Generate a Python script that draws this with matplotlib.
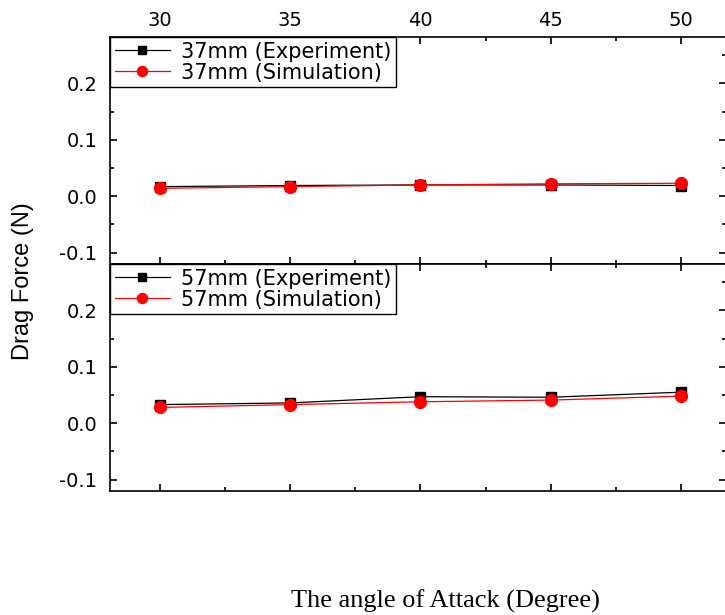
import numpy as np
import matplotlib
matplotlib.use('Agg')
import matplotlib.pyplot as plt
from matplotlib.ticker import MultipleLocator

plt.rcParams['font.family'] = ['DejaVu Sans']

# angle of attack (degree)
angles = [30, 35, 40, 45, 50]

# 37mm drag force (N)
exp_37 = [0.017, 0.019, 0.020, 0.020, 0.019]
sim_37 = [0.014, 0.017, 0.020, 0.022, 0.023]

# 57mm drag force (N)
exp_57 = [0.033, 0.036, 0.047, 0.046, 0.055]
sim_57 = [0.028, 0.033, 0.038, 0.041, 0.048]

W, H = 725, 615
fig = plt.figure(figsize=(W / 100, H / 100), dpi=100)

left, right = 110 / W, 726 / W
ax_top = fig.add_axes([left, 1 - 264 / H, right - left, (264 - 37) / H])
ax_bot = fig.add_axes([left, 1 - 491 / H, right - left, (491 - 264) / H])


def style_axes(ax, show_top_labels):
    ax.set_xlim(28.08, 51.73)
    ax.set_ylim(-0.12, 0.282)
    ax.xaxis.set_major_locator(MultipleLocator(5))
    ax.xaxis.set_minor_locator(MultipleLocator(2.5))
    ax.yaxis.set_major_locator(MultipleLocator(0.1))
    ax.yaxis.set_minor_locator(MultipleLocator(0.05))
    ax.yaxis.set_major_formatter(plt.FuncFormatter(lambda v, p: f'{v:.1f}'))
    ax.tick_params(which='both', direction='in', top=True, right=True,
                   width=1.2, labelsize=14, colors='black')
    ax.tick_params(which='major', length=5)
    ax.tick_params(which='minor', length=3)
    ax.tick_params(axis='y', pad=9)
    ax.tick_params(axis='x', labelbottom=False, labeltop=show_top_labels, pad=5)
    for sp in ax.spines.values():
        sp.set_linewidth(1.2)


def draw(ax, exp, sim, size):
    ax.plot(angles, exp, color='black', lw=0.9, marker='s', ms=7.5,
            mec='black', mfc='black', label=f'{size} (Experiment)')
    ax.plot(angles, sim, color='red', lw=0.9, marker='o', ms=8.5,
            mec='red', mfc='red', label=f'{size} (Simulation)')
    leg = ax.legend(loc='upper left', fontsize=15, borderaxespad=0,
                    handlelength=2.65, handletextpad=0.55, labelspacing=0.05,
                    borderpad=0.22, fancybox=False, framealpha=1,
                    edgecolor='black', markerscale=0.85)
    leg.get_frame().set_linewidth(1.0)


draw(ax_top, exp_37, sim_37, '37mm')
draw(ax_bot, exp_57, sim_57, '57mm')
style_axes(ax_top, True)
style_axes(ax_bot, False)

fig.text(23 / W, 1 - 281 / H, 'Drag Force (N)', rotation=90, ha='center',
         va='center', fontsize=17,
         family=['Liberation Sans Narrow', 'Liberation Sans', 'DejaVu Sans'])
fig.text(445 / W, 1 - 601 / H, 'The angle of Attack (Degree)', ha='center',
         va='center', fontsize=19, family=['Liberation Serif', 'DejaVu Serif'])

fig.savefig('out.png', dpi=100)
